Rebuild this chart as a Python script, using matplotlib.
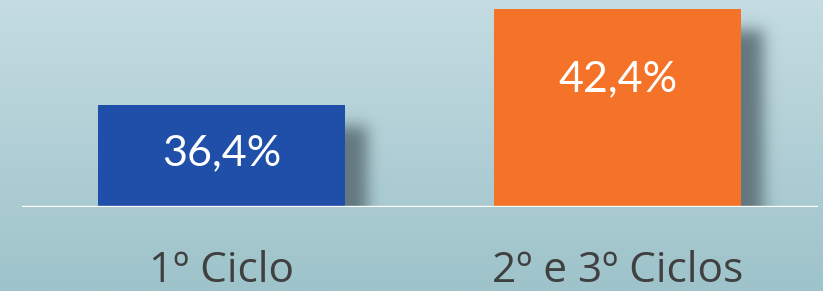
import numpy as np
import matplotlib.pyplot as plt

categories = ["1º Ciclo", "2º e 3º Ciclos"]
values = [36.4, 42.4]
value_labels = ["36,4%", "42,4%"]
colors = ["#1f4fa8", "#f47328"]

W, H = 823, 291
fig = plt.figure(figsize=(W / 100, H / 100), dpi=100)

# background gradient
bg = fig.add_axes([0, 0, 1, 1])
grad = np.linspace(0, 1, 256)[:, None]
top = np.array([196, 220, 226]) / 255
bot = np.array([158, 195, 202]) / 255
img = top + (bot - top) * grad[:, :, None]
bg.imshow(img, aspect="auto", extent=[0, W, 0, H], zorder=0)
bg.set_xlim(0, W)
bg.set_ylim(0, H)
bg.axis("off")

# axes: bottom at y=207px, 16px per unit
ax = fig.add_axes([22 / W, (H - 207) / H, (818 - 22) / W, 207 / H])
ax.patch.set_alpha(0)
ymin = 30
ax.set_ylim(ymin, ymin + 207 / 16)
ax.set_xlim(-0.504, 1.506)
x = np.arange(len(values))
width = 0.624

bars = ax.bar(x, [v - ymin for v in values], bottom=ymin, width=width, color=colors, zorder=3)

# blurred shadow behind the bars, offset to the right/down
fig.canvas.draw()
mask = np.zeros((H, W))
for b in bars:
    e = b.get_window_extent()
    x0, x1 = int(e.x0) + 22, int(e.x1) + 22
    y0, y1 = int(H - e.y1) + 22, int(H - e.y0) + 20
    mask[max(y0, 0):y1, max(x0, 0):min(x1, W)] = 1
k = np.arange(-28, 29)
g = np.exp(-k ** 2 / (2 * 7.5 ** 2))
g /= g.sum()
mask = np.apply_along_axis(lambda r: np.convolve(r, g, mode="same"), 1, mask)
mask = np.apply_along_axis(lambda c: np.convolve(c, g, mode="same"), 0, mask)
mask[int(H - bars[0].get_window_extent().y0):, :] = 0
shadow = np.zeros((H, W, 4))
shadow[..., :3] = np.array([98, 120, 126]) / 255
shadow[..., 3] = np.clip(mask * 1.0, 0, 1)
bg.imshow(shadow, aspect="auto", extent=[0, W, 0, H], zorder=1)

offsets = [-49, -71]
for xi, v, lab, off in zip(x, values, value_labels, offsets):
    ax.annotate(lab, (xi, v), xytext=(0, off), textcoords="offset pixels",
                ha="center", va="center", color="white", fontsize=31, family="Lato", zorder=4)

ax.axhline(ymin, color="white", lw=2.4, zorder=5)
ax.set_xticks(x)
ax.set_xticklabels(categories, fontsize=30.5, family="Open Sans", color="#404040")
ax.tick_params(axis="x", length=0, pad=31)
ax.set_yticks([])
for s in ax.spines.values():
    s.set_visible(False)

fig.savefig("out.png", dpi=100)
